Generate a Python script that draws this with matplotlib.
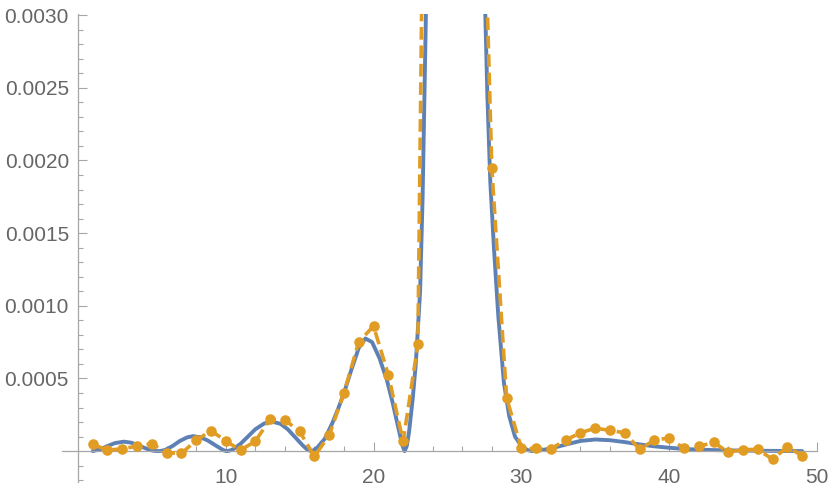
import matplotlib
matplotlib.use("Agg")
import matplotlib.pyplot as plt

# Sampled (discrete) values, orange dashed series with markers
sample_x = list(range(1, 50))
sample_y = [0.46e-4, 0.07e-4, 0.16e-4, 0.34e-4, 0.50e-4, -0.11e-4, -0.16e-4, 0.74e-4, 1.41e-4, 0.70e-4,
            0.06e-4, 0.68e-4, 2.19e-4, 2.14e-4, 1.35e-4, -0.37e-4, 1.10e-4, 4.00e-4, 7.52e-4, 8.60e-4,
            5.25e-4, 0.67e-4, 7.35e-4, 98e-4, 250e-4, 260e-4, 56e-4, 19.5e-4, 3.67e-4, 0.18e-4,
            0.18e-4, 0.16e-4, 0.76e-4, 1.26e-4, 1.58e-4, 1.42e-4, 1.26e-4, 0.12e-4, 0.76e-4, 0.90e-4,
            0.19e-4, 0.32e-4, 0.60e-4, -0.07e-4, 0.10e-4, 0.12e-4, -0.57e-4, 0.30e-4, -0.32e-4]

# Continuous curve (blue)
curve_x = [1.0, 1.5, 2.0, 2.5, 3.1, 3.6, 4.1, 4.6, 5.0, 5.2, 5.4, 5.6,
           5.9, 6.4, 6.9, 7.4, 7.8, 8.3, 8.8, 9.3, 9.7, 9.9, 10.06, 10.25,
           10.5, 11.0, 11.5, 12.0, 12.6, 13.15, 13.7, 14.2, 14.7, 15.2, 15.5, 15.75, 15.95,
           16.2, 16.7, 17.2, 17.6, 18.0, 18.5, 19.0, 19.45, 19.9, 20.4, 20.9, 21.3, 21.7, 21.95, 22.1,
           22.25, 22.4, 22.65, 22.85, 23.0, 23.15, 23.32, 23.55, 23.8, 24.3, 25.0, 25.6, 26.2, 26.9, 27.3,
           27.55, 27.7, 27.9, 28.15, 28.44, 28.82, 29.18, 29.57, 30.0, 30.4, 30.7,
           31.3, 32.0, 33.0, 34.0, 35.0, 36.0, 37.0, 38.0, 39.0, 40.0,
           41.0, 42.0, 43.0, 44.0, 45.5, 47.0, 49.0]
curve_y = [0.0, 0.12e-4, 0.35e-4, 0.55e-4, 0.65e-4, 0.58e-4, 0.40e-4, 0.18e-4, 0.05e-4, 0.01e-4, 0.0, 0.01e-4,
           0.08e-4, 0.35e-4, 0.70e-4, 0.95e-4, 1.03e-4, 0.95e-4, 0.72e-4, 0.40e-4, 0.15e-4, 0.04e-4, 0.0, 0.03e-4,
           0.12e-4, 0.50e-4, 1.00e-4, 1.50e-4, 1.90e-4, 2.02e-4, 1.88e-4, 1.50e-4, 0.95e-4, 0.40e-4, 0.12e-4, 0.0, 0.06e-4,
           0.25e-4, 0.85e-4, 1.90e-4, 2.90e-4, 4.00e-4, 5.60e-4, 7.10e-4, 7.75e-4, 7.50e-4, 6.40e-4,
           4.90e-4, 3.30e-4, 1.50e-4, 0.40e-4, 0.0,
           0.35e-4, 1.3e-4, 3.6e-4, 5.9e-4, 8.4e-4, 11.0e-4, 17.5e-4, 30.5e-4, 50e-4, 110e-4, 180e-4,
           200e-4, 180e-4, 110e-4, 60e-4,
           30.5e-4, 24.5e-4, 18.5e-4, 13.9e-4, 9.3e-4, 4.7e-4, 2.4e-4, 1.0e-4, 0.35e-4, 0.08e-4, 0.0,
           0.06e-4, 0.18e-4, 0.45e-4, 0.70e-4, 0.80e-4, 0.75e-4, 0.62e-4, 0.46e-4, 0.33e-4, 0.23e-4,
           0.15e-4, 0.10e-4, 0.07e-4, 0.05e-4, 0.03e-4, 0.015e-4, 0.0]

x_ticks = [10, 20, 30, 40, 50]
x_minor = [2, 4, 6, 8, 12, 14, 16, 18, 22, 24, 26, 28, 32, 34, 36, 38, 42, 44, 46, 48]
y_ticks = [0.0005, 0.0010, 0.0015, 0.0020, 0.0025, 0.0030]
y_labels = ["0.0005", "0.0010", "0.0015", "0.0020", "0.0025", "0.0030"]
y_minor = [-0.0002, -0.0001, 0.0001, 0.0002, 0.0003, 0.0004, 0.0006, 0.0007, 0.0008, 0.0009,
           0.0011, 0.0012, 0.0013, 0.0014, 0.0016, 0.0017, 0.0018, 0.0019, 0.0021, 0.0022,
           0.0023, 0.0024, 0.0026, 0.0027, 0.0028, 0.0029]

blue = "#5e81b5"
orange = "#e19c24"
axis_gray = "#a6a6a6"
text_gray = "#666666"

plt.rcParams['font.family'] = ['Liberation Sans', 'DejaVu Sans']

fig = plt.figure(figsize=(8.3, 4.91), dpi=100)
ax = fig.add_axes([0.0743, 0.0191, 0.910, 0.953])

ax.plot(curve_x, curve_y, color=blue, lw=2.8, solid_capstyle="round",
        solid_joinstyle="round", zorder=2)
ax.plot(sample_x, sample_y, color=orange, lw=2.6, linestyle=(0, (3.5, 1.6)),
        marker="o", markersize=7.6, markeredgewidth=0, zorder=3)

ax.set_xlim(-1.1, 50)
ax.set_ylim(-0.00021, 0.00301)

for side in ["top", "right"]:
    ax.spines[side].set_visible(False)
ax.spines["left"].set_position(("data", 0))
ax.spines["bottom"].set_position(("data", 0))
for side in ["left", "bottom"]:
    ax.spines[side].set_color(axis_gray)
    ax.spines[side].set_linewidth(0.9)

ax.set_xticks(x_ticks)
ax.set_xticks(x_minor, minor=True)
ax.set_yticks(y_ticks)
ax.set_yticklabels(y_labels)
ax.set_yticks(y_minor, minor=True)

ax.tick_params(which="both", direction="in", color=axis_gray, width=0.8,
               labelcolor=text_gray, labelsize=15)
ax.tick_params(which="major", length=6.5)
ax.tick_params(which="minor", length=3.6)
ax.tick_params(axis="x", pad=12)
ax.tick_params(axis="y", pad=6.5)

ax.patch.set_alpha(0)
fig.savefig("out.png", dpi=100)
